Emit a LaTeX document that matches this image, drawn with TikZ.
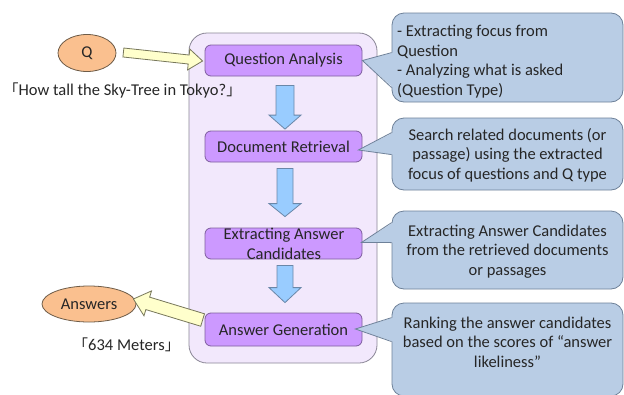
\documentclass[tikz,border=0pt]{standalone}
\usepackage{fontspec}
\setmainfont{Carlito}
\newfontfamily\cjk{Noto Sans CJK JP}
\usetikzlibrary{calc,shapes.geometric}
\definecolor{lav}{HTML}{F2E8FC}
\definecolor{lavborder}{HTML}{8A8696}
\definecolor{purp}{HTML}{CC99FF}
\definecolor{purpborder}{HTML}{7E5E9E}
\definecolor{orangefill}{HTML}{FAC08F}
\definecolor{ovalborder}{HTML}{6E5C48}
\definecolor{yfill}{HTML}{FFFFCC}
\definecolor{yborder}{HTML}{77775A}
\definecolor{bfill}{HTML}{99CCFF}
\definecolor{bborder}{HTML}{6A87A8}
\definecolor{cfill}{HTML}{B9CDE5}
\definecolor{cborder}{HTML}{6E8199}
\definecolor{txt}{HTML}{262626}
\newcommand{\blkarr}[6]{%
  \draw[#1]
    ($(#2)!#4!90:(#3)$)
    -- ($($(#3)!#6!(#2)$)!#4!90:(#3)$)
    -- ($($(#3)!#6!(#2)$)!#5!90:(#3)$)
    -- (#3)
    -- ($($(#3)!#6!(#2)$)!#5!-90:(#3)$)
    -- ($($(#3)!#6!(#2)$)!#4!-90:(#3)$)
    -- ($(#2)!#4!-90:(#3)$)
    -- cycle;}
\begin{document}
\begin{tikzpicture}[x=1pt,y=-1pt,
  font=\fontsize{16.5}{19.5}\selectfont, text=txt,
  container/.style={draw=lavborder, fill=lav, rounded corners=18, line width=0.8pt, minimum width=188, minimum height=330, inner sep=0},
  stepbox/.style={draw=purpborder, fill=purp, rounded corners=6, minimum width=157, minimum height=31, line width=0.8pt, inner sep=0},
  oval/.style={ellipse, draw=ovalborder, fill=orangefill, line width=0.8pt, inner sep=0},
  yarrow/.style={draw=yborder, fill=yfill, line width=0.8pt, line join=miter},
  barrow/.style={draw=bborder, fill=bfill, line width=0.8pt, line join=miter},
  callout/.style={draw=cborder, fill=cfill, rounded corners=12, line width=0.8pt, minimum width=231, inner sep=0},
  pointerfill/.style={fill=cfill},
  pointerline/.style={draw=cborder, line width=0.8pt, line join=miter},
  plain/.style={inner sep=0, align=center}
]
\useasboundingbox (0,0) rectangle (624,394);
\fill[white] (0,0) rectangle (624,394);

% container
\node[container] (box) at (283,198) {};

% steps
\node[stepbox] (qa) at (283.5,60.5) {Question Analysis};
\node[stepbox, minimum height=31] (dr) at (283.5,146.5) {Document Retrieval};
\node[stepbox] (ex) at (283.5,243.5) {};
\node[plain] (ext) at (284,244) {Extracting Answer\\Candidates};
\node[stepbox, minimum height=33] (ag) at (283.5,329.5) {Answer Generation};

% ovals
\node[oval, minimum width=58, minimum height=37] (q) at (87,53) {Q};
\node[oval, minimum width=94, minimum height=36] (ans) at (89,304) {Answers};

% quotes
\node[plain] (qtext) at (122.5,90) {{\cjk\fontsize{15}{18}\selectfont 「}How tall the Sky-Tree in Tokyo?{\cjk\fontsize{15}{18}\selectfont 」}};
\node[plain] (atext) at (126.5,345) {{\cjk\fontsize{15}{18}\selectfont 「}634 Meters{\cjk\fontsize{15}{18}\selectfont 」}};

% block arrows
\coordinate (a1s) at ($(q.east)+(7,-0.5)$);
\coordinate (a1e) at ($(qa.west)+(-2,0.5)$);
\blkarr{yarrow}{a1s}{a1e}{4.5pt}{10.5pt}{14pt}

\coordinate (d1s) at ($(qa.south)+(1.5,9)$);
\coordinate (d1e) at ($(dr.north)+(1.5,-1.5)$);
\blkarr{barrow}{d1s}{d1e}{9pt}{16pt}{14pt}

\coordinate (d2s) at ($(dr.south)+(1.5,6)$);
\coordinate (d2e) at ($(ex.north)+(1.5,-11)$);
\blkarr{barrow}{d2s}{d2e}{8pt}{16pt}{13pt}

\coordinate (d3s) at ($(ex.south)+(1.5,6)$);
\coordinate (d3e) at ($(ag.north)+(1.5,-10)$);
\blkarr{barrow}{d3s}{d3e}{8pt}{16pt}{15pt}

\coordinate (a5s) at ($(ag.west)+(-2,-9.5)$);
\coordinate (a5e) at ($(ans.east)+(-3,-5)$);
\blkarr{yarrow}{a5s}{a5e}{6.5pt}{13pt}{15pt}

% callouts
\node[callout, minimum height=89] (c1) at (507.5,57.5) {};
\node[callout, minimum height=72] (c2) at (507.5,154) {};
\node[callout, minimum height=78] (c3) at (507.5,250) {};
\node[callout, minimum height=93] (c4) at (507.5,349.5) {};

\coordinate (t1) at (qa.east);
\coordinate (t2) at ($(dr.east)+(-4,3.5)$);
\coordinate (t3) at ($(ex.east)+(-1,-1)$);
\coordinate (t4) at ($(ag.east)+(-7,-0.5)$);

\fill[pointerfill] ($(c1.north west)+(1.5,40)$) -- (t1) -- ($(c1.north west)+(1.5,75)$) -- cycle;
\draw[pointerline] ($(c1.north west)+(0,40)$) -- (t1) -- ($(c1.north west)+(0,75)$);
\fill[pointerfill] ($(c2.north west)+(1.5,15)$) -- (t2) -- ($(c2.north west)+(1.5,37)$) -- cycle;
\draw[pointerline] ($(c2.north west)+(0,15)$) -- (t2) -- ($(c2.north west)+(0,37)$);
\fill[pointerfill] ($(c3.north west)+(1.5,12)$) -- (t3) -- ($(c3.north west)+(1.5,32)$) -- cycle;
\draw[pointerline] ($(c3.north west)+(0,12)$) -- (t3) -- ($(c3.north west)+(0,32)$);
\fill[pointerfill] ($(c4.north west)+(1.5,15)$) -- (t4) -- ($(c4.north west)+(1.5,39)$) -- cycle;
\draw[pointerline] ($(c4.north west)+(0,15)$) -- (t4) -- ($(c4.north west)+(0,39)$);

\node[inner sep=0, align=left, anchor=west] (c1t) at (397,61.5) {- Extracting focus from\\Question\\- Analyzing what is asked\\(Question Type)};
\node[plain] (c2t) at (507.5,155) {Search related documents (or\\passage) using the extracted\\focus of questions and Q type};
\node[plain] (c3t) at (507.5,251.5) {Extracting Answer Candidates\\from the retrieved documents\\or passages};
\node[plain] (c4t) at (507.5,342) {Ranking the answer candidates\\based on the scores of “answer\\likeliness”};
\end{tikzpicture}
\end{document}
